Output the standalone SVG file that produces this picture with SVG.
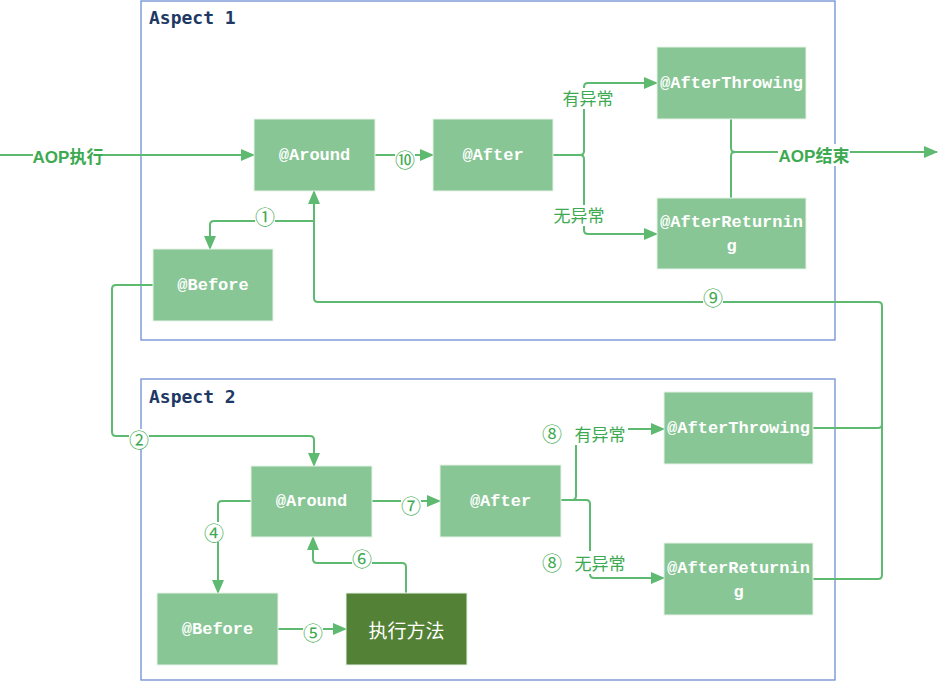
<svg xmlns="http://www.w3.org/2000/svg" width="938" height="681" viewBox="0 0 938 681">
<defs>
<marker id="ah" markerUnits="userSpaceOnUse" markerWidth="14" markerHeight="12" refX="13" refY="6" orient="auto">
<path d="M0,0 L14,6 L0,12 Z" fill="#5fba71"/>
</marker>
<style>
.aspect{fill:none;stroke:#6f8ed3;stroke-width:1.3}
.atitle{font-family:"DejaVu Sans Mono","Liberation Mono",monospace;font-weight:bold;font-size:18px;fill:#203864}
.node{fill:#88c695;stroke:#e6f3e8;stroke-width:1}
.nt{font-family:"Liberation Mono","DejaVu Sans Mono",monospace;font-weight:bold;font-size:17px;fill:#ffffff;text-anchor:middle;dominant-baseline:central}
.exec{fill:#538135;stroke:#e6f3e8;stroke-width:1}
.et{font-family:"Noto Sans CJK SC",sans-serif;font-size:19px;fill:#ffffff;text-anchor:middle;dominant-baseline:central}
.c{fill:none;stroke:#5fba71;stroke-width:2}
.ca{fill:none;stroke:#5fba71;stroke-width:2;marker-end:url(#ah)}
.lb{font-family:"Noto Sans CJK SC",sans-serif;font-size:17px;fill:#3daa52;text-anchor:middle;dominant-baseline:central}
.num{font-family:"Noto Sans CJK SC",sans-serif;font-size:20px;fill:#3daa52;text-anchor:middle;dominant-baseline:central}
.lbb{font-family:"Liberation Sans","Noto Sans CJK SC",sans-serif;font-weight:bold;font-size:17px;fill:#3daa52;text-anchor:middle;dominant-baseline:central}
.bg{fill:#ffffff}
</style>
</defs>

<g id="aspect1">
<rect class="aspect" x="141" y="1" width="694" height="339"/>
<text class="atitle" x="149" y="24">Aspect 1</text>
</g>
<g id="aspect2">
<rect class="aspect" x="141" y="379" width="694" height="301"/>
<text class="atitle" x="149" y="403">Aspect 2</text>
</g>

<g id="connectors">
<path class="ca" d="M0,155 H254"/>
<path class="ca" d="M375,155 H433"/>
<path class="ca" d="M553,155 H580 q4,0 4,-4 V87 q0,-4 4,-4 H657"/>
<path class="ca" d="M580,155 q4,0 4,4 V230 q0,4 4,4 H657"/>
<path class="c" d="M731,119 V148 q0,4 4,4"/>
<path class="c" d="M731,198 V156 q0,-4 4,-4"/>
<path class="ca" d="M735,152 H937"/>
<path class="ca" d="M314,221 H214 q-4,0 -4,4 V249"/>
<path class="ca" d="M813,428 H878 q4,0 4,-4 V306 q0,-4 -4,-4 H318 q-4,0 -4,-4 V191"/>
<path class="c" d="M813,579 H878 q4,0 4,-4 V424"/>
<path class="ca" d="M153,285 H116 q-4,0 -4,4 V432 q0,4 4,4 H310 q4,0 4,4 V466"/>
<path class="ca" d="M251,501 H222 q-4,0 -4,4 V593"/>
<path class="ca" d="M278,629 H346"/>
<path class="ca" d="M406,593 V567 q0,-4 -4,-4 H317 q-4,0 -4,-4 V537"/>
<path class="ca" d="M372,501 H440"/>
<path class="ca" d="M561,500 H572 q4,0 4,-4 V433 q0,-4 4,-4 H664"/>
<path class="ca" d="M561,500 H586 q4,0 4,4 V574 q0,4 4,4 H664"/>
</g>

<g id="labels">
<rect class="bg" x="33" y="146" width="70" height="20"/>
<text class="lbb" x="68" y="157">AOP执行</text>
<rect class="bg" x="395" y="147" width="20" height="20"/>
<text class="num" x="405" y="159">⑩</text>
<rect class="bg" x="559" y="88" width="58" height="21"/>
<text class="lb" x="588" y="97">有异常</text>
<rect class="bg" x="550" y="205" width="58" height="21"/>
<text class="lb" x="579" y="214">无异常</text>
<rect class="bg" x="778" y="144" width="72" height="22"/>
<text class="lbb" x="814" y="156">AOP结束</text>
<rect class="bg" x="255" y="207" width="20" height="20"/>
<text class="num" x="265" y="216">①</text>
<rect class="bg" x="703" y="288" width="20" height="20"/>
<text class="num" x="713" y="297">⑨</text>
<rect class="bg" x="129" y="429" width="20" height="20"/>
<text class="num" x="139" y="439">②</text>
<rect class="bg" x="204" y="522" width="20" height="20"/>
<text class="num" x="214" y="532">④</text>
<rect class="bg" x="303" y="623" width="20" height="20"/>
<text class="num" x="313" y="632">⑤</text>
<rect class="bg" x="352" y="548" width="20" height="20"/>
<text class="num" x="362" y="558">⑥</text>
<rect class="bg" x="401" y="495" width="20" height="20"/>
<text class="num" x="411" y="505">⑦</text>
<rect class="bg" x="541" y="422" width="87" height="23"/>
<text class="num" x="552" y="433">⑧</text>
<text class="lb" x="600" y="433">有异常</text>
<rect class="bg" x="541" y="551" width="87" height="23"/>
<text class="num" x="552" y="562">⑧</text>
<text class="lb" x="600" y="562">无异常</text>
</g>

<g id="around1"><rect class="node" x="254" y="119" width="121" height="72"/><text class="nt" x="314.5" y="155">@Around</text></g>
<g id="after1"><rect class="node" x="433" y="119" width="120" height="72"/><text class="nt" x="493" y="155">@After</text></g>
<g id="afterThrowing1"><rect class="node" x="657" y="47" width="149" height="72"/><text class="nt" x="731.5" y="83">@AfterThrowing</text></g>
<g id="afterReturning1"><rect class="node" x="657" y="198" width="149" height="71"/><text class="nt" x="731.5" y="222">@AfterReturnin</text><text class="nt" x="731.5" y="246">g</text></g>
<g id="before1"><rect class="node" x="153" y="249" width="120" height="72"/><text class="nt" x="213" y="285">@Before</text></g>

<g id="around2"><rect class="node" x="251" y="466" width="121" height="71"/><text class="nt" x="311.5" y="501">@Around</text></g>
<g id="after2"><rect class="node" x="440" y="465" width="121" height="72"/><text class="nt" x="500.5" y="501">@After</text></g>
<g id="afterThrowing2"><rect class="node" x="664" y="392" width="149" height="72"/><text class="nt" x="738.5" y="428">@AfterThrowing</text></g>
<g id="afterReturning2"><rect class="node" x="664" y="543" width="149" height="72"/><text class="nt" x="738.5" y="568">@AfterReturnin</text><text class="nt" x="738.5" y="592">g</text></g>
<g id="before2"><rect class="node" x="157" y="593" width="121" height="72"/><text class="nt" x="217.5" y="629">@Before</text></g>
<g id="execMethod"><rect class="exec" x="346" y="593" width="121" height="72"/><text class="et" x="406.5" y="629">执行方法</text></g>
</svg>
